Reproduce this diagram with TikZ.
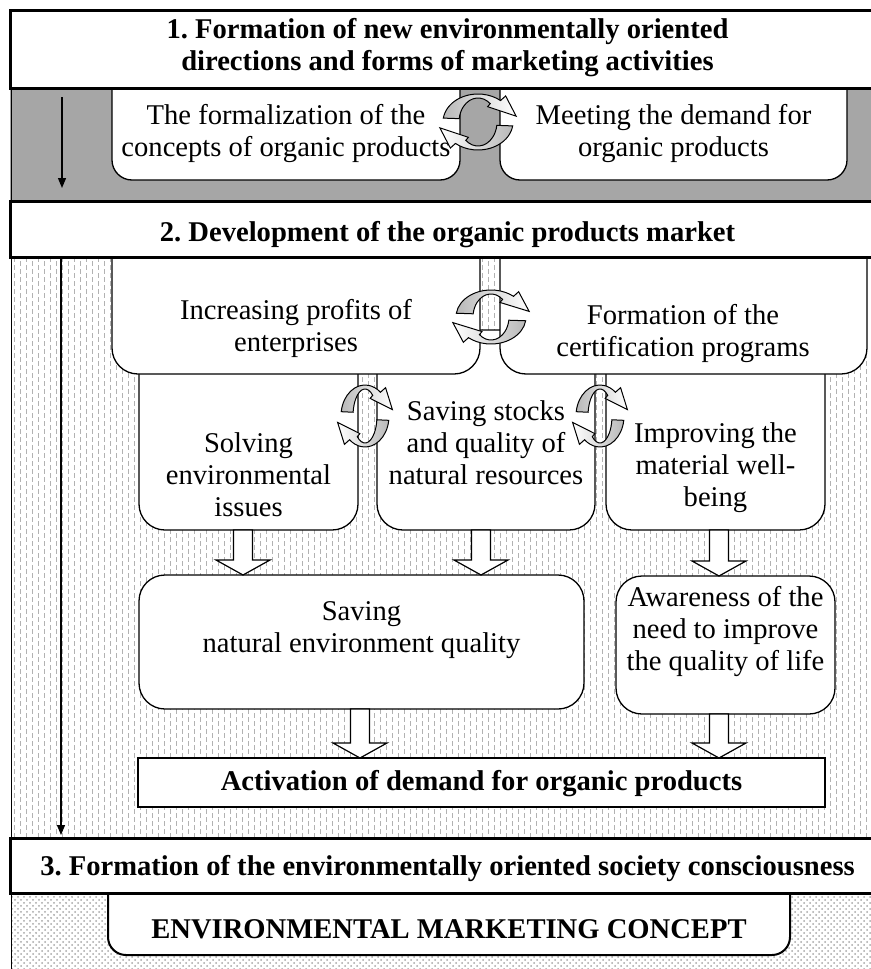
\documentclass[tikz,border=0pt]{standalone}
\usepackage{fontspec}
\setmainfont{Liberation Serif}
\usetikzlibrary{arrows.meta,calc,patterns}
\frenchspacing

% hollow block arrow: source node, target node, x offset
\newcommand{\blockarrow}[3]{%
  \filldraw[fill=white, line width=0.6pt] let \p1=($(#1.south)+(#3,0)$), \p2=(#2.north) in
    (\x1-4.75pt,\y1) -- (\x1-4.75pt,\y2+7.5pt) -- (\x1-13.5pt,\y2+7.5pt) -- (\x1,\y2)
    -- (\x1+13.5pt,\y2+7.5pt) -- (\x1+4.75pt,\y2+7.5pt) -- (\x1+4.75pt,\y1) -- cycle;}

\begin{document}
\begin{tikzpicture}[x=0.5pt, y=-0.5pt,
  every node/.style={font=\fontsize{14.3}{16}\selectfont, inner sep=0pt, outer sep=0pt},
  head/.style={draw, fill=white, line width=1.5pt, anchor=north west, minimum width=437.5pt},
  box/.style={draw, fill=white, line width=0.65pt, rounded corners=13pt, anchor=north west},
  txt/.style={align=center},
  bold/.style={align=center, font=\fontsize{14.3}{16}\selectfont\bfseries},
  flow/.style={-{Triangle[length=5pt,width=4pt]}, line width=0.6pt},
  patline/.style={gray!60, line width=0.4pt, dash pattern=on 2.5pt off 1.5pt},
  pics/cycarr/.style n args={3}{code={
    \begin{scope}[yscale=-1]
    \draw[line width=0.5pt, left color=gray!55, right color=white]
      (172:{#1+#3} and {#2+4}) arc[start angle=172, end angle=50, x radius=#1+#3, y radius=#2+4]
      -- (50:{#1+#3+8} and {#2+10}) -- (12:{#1+#3+4} and {#2+4}) -- (50:{#1-4} and {#2-4})
      -- (50:{#1} and {#2}) arc[start angle=50, end angle=172, x radius=#1, y radius=#2] -- cycle;
    \draw[line width=0.5pt, left color=white, right color=gray!55]
      (-8:{#1+#3} and {#2+4}) arc[start angle=-8, end angle=-130, x radius=#1+#3, y radius=#2+4]
      -- (-130:{#1+#3+8} and {#2+10}) -- (-168:{#1+#3+4} and {#2+4}) -- (-130:{#1-4} and {#2-4})
      -- (-130:{#1} and {#2}) arc[start angle=-130, end angle=-8, x radius=#1, y radius=#2] -- cycle;
    \end{scope}
  }}
]
\useasboundingbox (0,0) rectangle (871,969);
\clip (0,0) rectangle (871,969);

% backgrounds
\fill[black!35] (10,88) rectangle (871,201);
\fill[white] (12,257) rectangle (871,838);
\foreach \px in {14,26,...,866} \draw[patline] (\px,257) -- (\px,838);
\foreach \px in {20,32,...,870} \draw[patline, dash phase=2pt] (\px,257) -- (\px,838);
\fill[pattern=crosshatch dots, pattern color=gray!70] (12,893) rectangle (871,969);
\draw[line width=0.5pt] (11,88) -- (11,969);

% level 1 boxes
\node[box, rounded corners=10pt, minimum width=174pt, minimum height=60pt] (fb) at (112,60) {};
\node[box, rounded corners=10pt, minimum width=173.5pt, minimum height=60pt] (mb) at (500,60) {};

% level 2 boxes
\node[box, minimum width=109.5pt, minimum height=100pt] (sol) at (139,330) {};
\node[box, minimum width=109pt, minimum height=100pt] (sst) at (377,330) {};
\node[box, minimum width=109.5pt, minimum height=100pt] (imp) at (606,330) {};
\node[box, minimum width=184pt, minimum height=72pt] (ipb) at (112,230) {};
\node[box, minimum width=183.5pt, minimum height=72pt] (fcb) at (500,230) {};

% headers
\node[head, minimum height=39pt] (h1) at (10,10) {};
\node[head, minimum height=28pt] (h2) at (10,201) {};

\node[box, minimum width=222.5pt, minimum height=67pt] (sne) at (139,575) {};
\node[box, minimum width=109.5pt, minimum height=69pt] (awr) at (616,576) {};
\node[draw, fill=white, line width=1.3pt, anchor=north west, minimum width=343.5pt, minimum height=24.5pt] (act) at (138,758) {};
\node[box, line width=1pt, rounded corners=9pt, minimum width=341pt, minimum height=47.5pt] (emc) at (108,860) {};
\node[head, minimum height=27.5pt] (h3) at (10,838) {};

% texts
\node[bold] (t1) at (447.5,48) {1. Formation of new environmentally oriented\\directions and forms of marketing activities};
\node[txt] (tfb) at (286,134) {The formalization of the\\concepts of organic products};
\node[txt] (tmb) at (673.5,134) {Meeting the demand for\\organic products};
\node[bold] (t2) at (447.5,235) {2. Development of the organic products market};
\node[txt] (tipb) at (296,328) {Increasing profits of\\enterprises};
\node[txt] (tfcb) at (683,334) {Formation of the\\certification programs};
\node[txt] (tsol) at (248.5,475) {Solving\\environmental\\issues};
\node[txt] (tsst) at (486,443) {Saving stocks\\and quality of\\natural resources};
\node[txt] (timp) at (715.5,468) {Improving the\\material well-\\being};
\node[txt] (tsne) at (361.5,630) {Saving\\natural environment quality};
\node[txt] (tawr) at (725.5,632) {Awareness of the\\need to improve\\the quality of life};
\node[bold] (tact) at (481.5,784) {Activation of demand for organic products};
\node[bold] (t3) at (447.5,869) {3. Formation of the environmentally oriented society consciousness};
\node[bold] (temc) at (449,929) {ENVIRONMENTAL MARKETING CONCEPT};

% block arrows
\blockarrow{sol}{sne}{-5.5}
\blockarrow{sst}{sne}{-5}
\blockarrow{imp}{awr}{3.5}
\blockarrow{sne}{act}{-1.5}
\blockarrow{awr}{act}{-6.5}

% mutual influence
\pic at (478,122) {cycarr={19}{24}{16}};
\pic at (491,317) {cycarr={18}{23}{17}};
\pic at (365,416) {cycarr={12}{27}{12}};
\pic at (600,416) {cycarr={12}{27}{12}};

% stage arrows
\coordinate (lx1) at (62,0);
\coordinate (lx2) at (61,0);
\draw[flow, shorten <=4.5pt, shorten >=6.5pt] (h1.south -| lx1) -- (h2.north -| lx1);
\draw[flow, shorten >=1.5pt] (h2.south -| lx2) -- (h3.north -| lx2);
\end{tikzpicture}
\end{document}
